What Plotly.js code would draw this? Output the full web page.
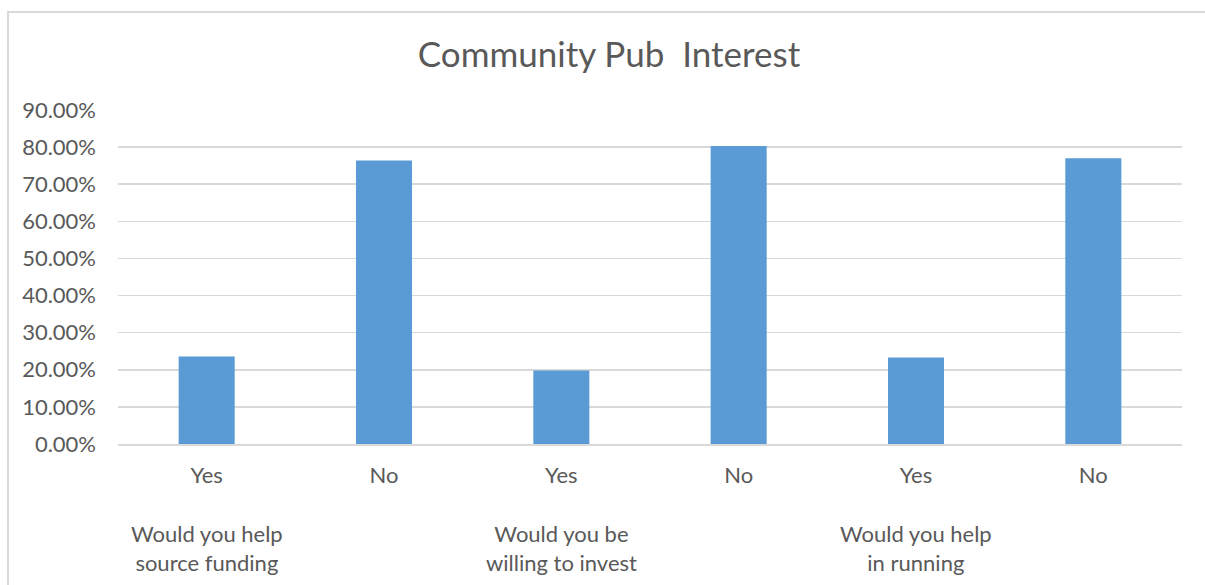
<!DOCTYPE html>
<html>
<head>
<meta charset="utf-8">
<script src="https://cdn.plot.ly/plotly-3.0.1.min.js"></script>
<style>
  html, body { margin: 0; padding: 0; background: #ffffff; }
  #wrap { position: relative; width: 1205px; height: 585px; overflow: hidden; }
  #chart { position: absolute; left: 0; top: 0; width: 1205px; height: 585px; }
  #frame { position: absolute; left: 7px; top: 11px; width: 1400px; height: 800px;
           border-left: 2px solid #d9d9d9; border-top: 2px solid #d9d9d9; pointer-events: none; }
</style>
</head>
<body>
<div id="wrap">
  <div id="chart"></div>
  <div id="frame"></div>
</div>
<script>
// Data
const chartTitle = "Community Pub  Interest";
const groups = ["Would you help<br>source funding", "Would you be<br>willing to invest", "Would you help<br>in running"];
const answers = ["Yes", "No", "Yes", "No", "Yes", "No"];
const groupOfBar = [0, 0, 1, 1, 2, 2];
const values = [0.236, 0.764, 0.198, 0.803, 0.233, 0.770];
const yTicks = [0, 0.1, 0.2, 0.3, 0.4, 0.5, 0.6, 0.7, 0.8, 0.9];

const barIndex = answers.map((_, i) => i);
const textColor = "#595959";
const font = "Lato, 'Open Sans', sans-serif";

const trace = {
  type: "bar",
  x: barIndex,
  y: values,
  marker: { color: "#5B9BD5" },
  hoverinfo: "y"
};

// Group labels sit under the first bar of each group (as in the source chart)
const groupAnchor = groups.map((g, gi) => barIndex.find(i => groupOfBar[i] === gi));

const annotations = groups.map((g, gi) => ({
  text: g,
  x: groupAnchor[gi],
  xref: "x",
  y: 0,
  yref: "paper",
  xanchor: "center",
  yanchor: "top",
  yshift: -74,
  showarrow: false,
  align: "center",
  font: { family: font, size: 22, color: textColor }
}));

const layout = {
  width: 1205,
  height: 585,
  margin: { l: 118, r: 23, t: 110, b: 141, pad: 0 },
  paper_bgcolor: "#ffffff",
  plot_bgcolor: "#ffffff",
  showlegend: false,
  bargap: 0.684,
  title: {
    text: chartTitle,
    font: { family: font, size: 35, color: textColor },
    x: 609 / 1205,
    xref: "container",
    xanchor: "center",
    y: 1 - 55 / 585,
    yref: "container",
    yanchor: "middle"
  },
  xaxis: {
    type: "linear",
    range: [-0.5, answers.length - 0.5],
    tickmode: "array",
    tickvals: barIndex,
    ticktext: answers,
    showgrid: false,
    zeroline: false,
    showline: true,
    linecolor: "#d9d9d9",
    linewidth: 1.5,
    ticks: "",
    ticklabelstandoff: 11,
    tickfont: { family: font, size: 22, color: textColor },
    fixedrange: true
  },
  yaxis: {
    range: [0, 0.9],
    tickmode: "array",
    tickvals: yTicks,
    tickformat: ".2%",
    showgrid: true,
    gridcolor: "#d9d9d9",
    gridwidth: 1.5,
    zeroline: false,
    showline: false,
    ticks: "",
    ticklabelstandoff: 21,
    tickfont: { family: font, size: 22, color: textColor },
    fixedrange: true
  },
  annotations: annotations
};

Plotly.newPlot("chart", [trace], layout, { displayModeBar: false, staticPlot: true });
</script>
</body>
</html>
